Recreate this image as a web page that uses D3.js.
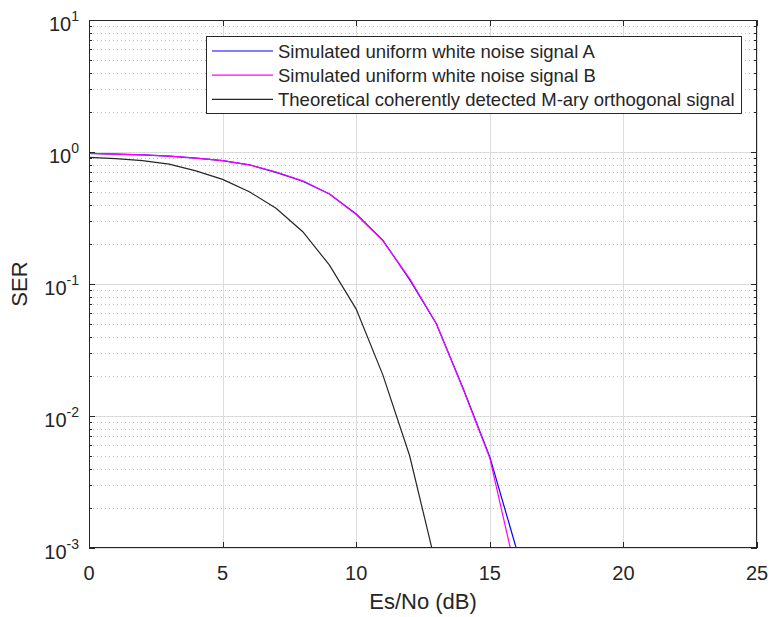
<!doctype html>
<html lang="en">
<head>
<meta charset="utf-8">
<title>SER vs Es/No</title>
<script src="https://d3js.org/d3.v7.min.js"></script>
<style>
  body { margin: 0; background: #fff; }
  text { font-family: "Liberation Sans", Arial, sans-serif; fill: #262626; }
</style>
</head>
<body>
<svg id="chart" width="773" height="617"></svg>
<script>
// data
var esno = [0, 1, 2, 3, 4, 5, 6, 7, 8, 9, 10, 11, 12, 13, 14, 15, 16];
var serA = [0.975, 0.965, 0.95, 0.93, 0.90, 0.86, 0.80, 0.70, 0.60, 0.48, 0.339, 0.214, 0.108, 0.050, 0.0162, 0.0049, 0.00098];
var serB = [0.975, 0.965, 0.95, 0.93, 0.90, 0.86, 0.80, 0.705, 0.605, 0.48, 0.336, 0.212, 0.110, 0.050, 0.0160, 0.0048, 0.00062];
var esnoTheory = [0, 1, 2, 3, 4, 5, 6, 7, 8, 9, 10, 11, 12, 13];
var serTheory = [0.91, 0.89, 0.86, 0.81, 0.72, 0.62, 0.50, 0.375, 0.249, 0.139, 0.0645, 0.0204, 0.0050, 0.00072];
var xTicks = [0, 5, 10, 15, 20, 25];
var yExps = [-3, -2, -1, 0, 1];
var legendLabels = ["Simulated uniform white noise signal A",
                    "Simulated uniform white noise signal B",
                    "Theoretical coherently detected M-ary orthogonal signal"];
var colors = ["#0000ff", "#ff00ff", "#262626"];

var pLeft = 89, pRight = 757, pTop = 20, pBottom = 548;
var svg = d3.select("#chart");

var x = d3.scaleLinear().domain([0, 25]).range([pLeft, pRight]);
var y = d3.scaleLog().domain([1e-3, 10]).range([pBottom, pTop]);

// minor values for log axis
var minor = [];
for (var e = -3; e < 1; e++) {
    for (var m = 2; m <= 9; m++) minor.push(m * Math.pow(10, e));
}

// grid
var grid = svg.append("g");
grid.selectAll(".minor").data(minor).enter().append("line")
    .attr("x1", pLeft).attr("x2", pRight)
    .attr("y1", function(d) { return Math.round(y(d)) + 0.5; })
    .attr("y2", function(d) { return Math.round(y(d)) + 0.5; })
    .attr("stroke", "#bdbdbd").attr("stroke-width", 1)
    .attr("stroke-dasharray", "1,3");
grid.selectAll(".ymaj").data(yExps).enter().append("line")
    .attr("x1", pLeft).attr("x2", pRight)
    .attr("y1", function(d) { return Math.round(y(Math.pow(10, d))) + 0.5; })
    .attr("y2", function(d) { return Math.round(y(Math.pow(10, d))) + 0.5; })
    .attr("stroke", "#dcdcdc").attr("stroke-width", 1);
grid.selectAll(".xmaj").data(xTicks).enter().append("line")
    .attr("x1", function(d) { return Math.round(x(d)) + 0.5; })
    .attr("x2", function(d) { return Math.round(x(d)) + 0.5; })
    .attr("y1", pTop).attr("y2", pBottom)
    .attr("stroke", "#dcdcdc").attr("stroke-width", 1);

// curves
svg.append("clipPath").attr("id", "clip").append("rect")
    .attr("x", pLeft).attr("y", pTop).attr("width", pRight - pLeft).attr("height", pBottom - pTop);

var line = d3.line()
    .x(function(d) { return x(d[0]); })
    .y(function(d) { return y(d[1]); });

var series = [
    d3.zip(esno, serA),
    d3.zip(esno, serB),
    d3.zip(esnoTheory, serTheory)
];

svg.append("g").attr("clip-path", "url(#clip)")
    .selectAll("path").data(series).enter().append("path")
    .attr("d", line)
    .attr("fill", "none")
    .attr("stroke", function(d, i) { return colors[i]; })
    .attr("stroke-width", 1.2);

// axes box
var ax = svg.append("g").attr("stroke", "#262626").attr("stroke-width", 1).attr("fill", "none");
ax.append("rect").attr("x", pLeft + 0.5).attr("y", pTop + 0.5)
    .attr("width", pRight - pLeft - 1).attr("height", pBottom - pTop - 1);

// x ticks (bottom + top, inward)
xTicks.forEach(function(d) {
    var px = Math.round(x(d)) + 0.5;
    ax.append("line").attr("x1", px).attr("x2", px).attr("y1", pBottom).attr("y2", pBottom - 6);
    ax.append("line").attr("x1", px).attr("x2", px).attr("y1", pTop).attr("y2", pTop + 6);
});
// y ticks
yExps.forEach(function(d) {
    var py = Math.round(y(Math.pow(10, d))) + 0.5;
    ax.append("line").attr("x1", pLeft).attr("x2", pLeft + 6).attr("y1", py).attr("y2", py);
    ax.append("line").attr("x1", pRight).attr("x2", pRight - 6).attr("y1", py).attr("y2", py);
});
minor.forEach(function(d) {
    var py = Math.round(y(d)) + 0.5;
    ax.append("line").attr("x1", pLeft).attr("x2", pLeft + 3).attr("y1", py).attr("y2", py);
    ax.append("line").attr("x1", pRight).attr("x2", pRight - 3).attr("y1", py).attr("y2", py);
});

// tick labels
svg.append("g").selectAll("text").data(xTicks).enter().append("text")
    .attr("x", function(d) { return x(d); })
    .attr("y", 580)
    .attr("text-anchor", "middle")
    .style("font-size", "20px")
    .text(function(d) { return d; });

var yl = svg.append("g").selectAll("text").data(yExps).enter().append("text")
    .attr("x", 79)
    .attr("y", function(d) { return y(Math.pow(10, d)) + 11; })
    .attr("text-anchor", "end")
    .style("font-size", "20px");
yl.append("tspan").text("10");
yl.append("tspan").attr("dy", -10).style("font-size", "14px")
    .text(function(d) { return d < 0 ? "-" + Math.abs(d) : d; });

// axis labels
svg.append("text")
    .attr("x", (pLeft + pRight) / 2).attr("y", 609)
    .attr("text-anchor", "middle")
    .style("font-size", "22px")
    .text("Es/No (dB)");

svg.append("text")
    .attr("transform", "translate(27," + ((pTop + pBottom) / 2) + ") rotate(-90)")
    .attr("text-anchor", "middle")
    .style("font-size", "22px")
    .text("SER");

// legend
var lg = svg.append("g");
lg.append("rect").attr("x", 206.5).attr("y", 36.5).attr("width", 535).attr("height", 77)
    .attr("fill", "#fff").attr("stroke", "#262626").attr("stroke-width", 1);
legendLabels.forEach(function(t, i) {
    var ly = 51 + i * 24.2;
    lg.append("line").attr("x1", 212).attr("x2", 273).attr("y1", ly).attr("y2", ly)
        .attr("stroke", colors[i]).attr("stroke-width", 1.2);
    lg.append("text").attr("x", 278).attr("y", ly + 6.5)
        .style("font-size", "18.5px")
        .text(t);
});
</script>
</body>
</html>
